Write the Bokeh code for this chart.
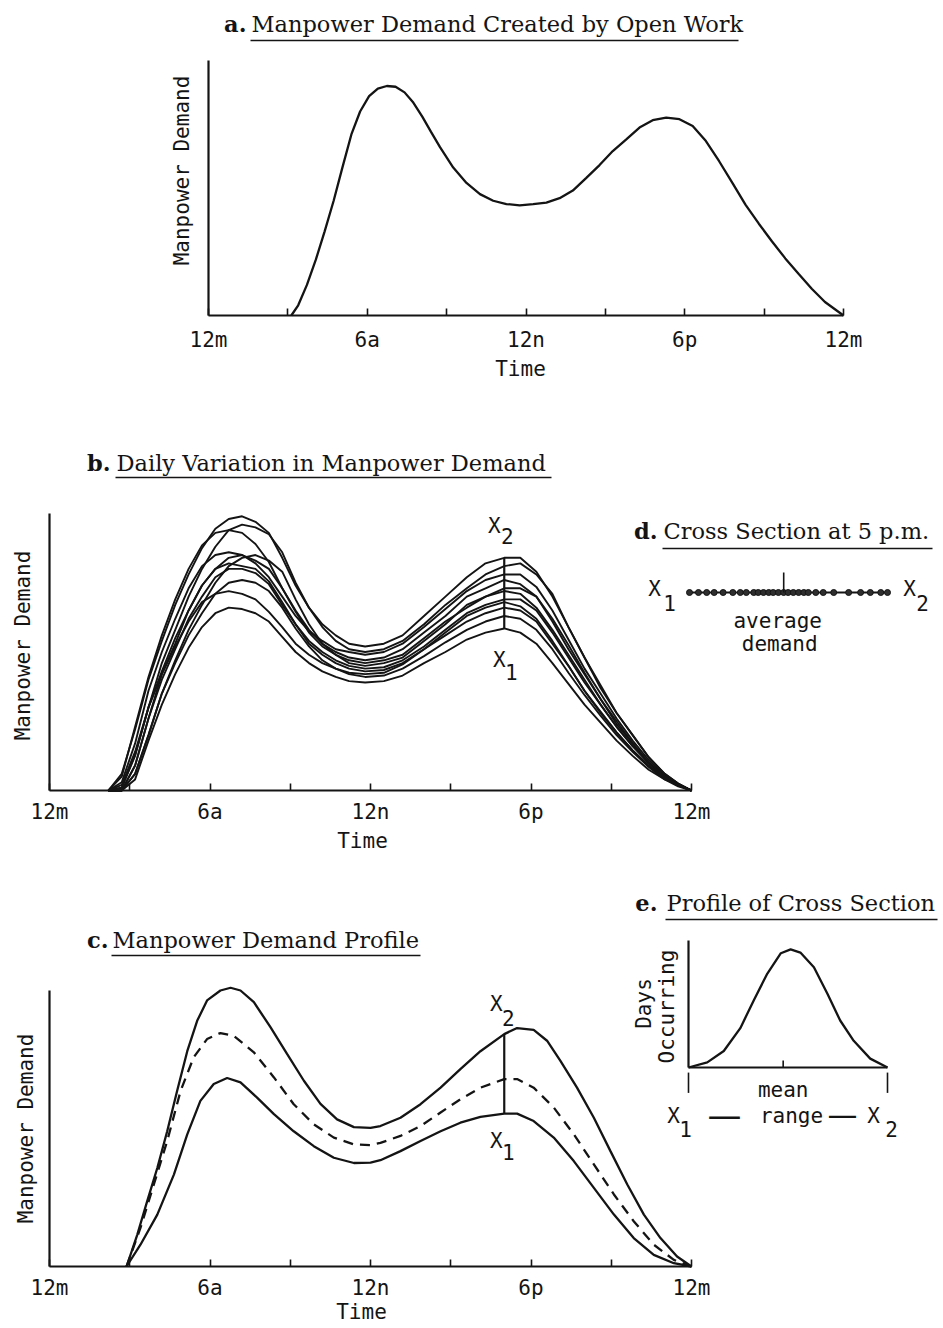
import math
from bokeh.plotting import figure
from bokeh.models import Range1d, FixedTicker, LinearAxis
from bokeh.core.properties import value
from bokeh.embed import file_html
from bokeh.resources import INLINE

# ---------------------------------------------------------------- data
TICK_HOURS = [0, 6, 12, 18, 24]
TICK_LABELS = ["12m", "6a", "12n", "6p", "12m"]
MINOR_HOURS = [3, 9, 15, 21]
CUT_HOUR = 17.0  # 5 p.m. cross section

# a. demand created by open work
a_hours = [3.13, 3.39, 3.72, 4.06, 4.39, 4.73, 5.06, 5.40, 5.73, 6.07,
           6.40, 6.74, 7.07, 7.41, 7.74, 8.08, 8.41, 8.75, 9.25, 9.75,
           10.26, 10.76, 11.26, 11.76, 12.27, 12.77, 13.27, 13.77, 14.28, 14.78,
           15.28, 15.78, 16.29, 16.79, 17.3, 17.8, 18.3, 18.8, 19.3, 19.8,
           20.3, 20.8, 21.3, 21.8, 22.3, 22.8, 23.3, 24.0]
a_demand = [0, .04, .12, .22, .33, .45, .58, .71, .80, .86,
            .89, .90, .897, .875, .835, .78, .72, .66, .58, .52,
            .476, .45, .437, .432, .437, .443, .46, .49, .54, .59,
            .645, .69, .737, .766, .776, .77, .743, .684, .605, .52,
            .434, .36, .29, .224, .164, .105, .053, 0]

# b. daily variation (eleven days)
b_hours = [2.2, 2.7, 3.2, 3.7, 4.2, 4.7, 5.2, 5.7, 6.2, 6.7,
           7.2, 7.7, 8.2, 8.7, 9.2, 9.7, 10.2, 10.7, 11.2, 11.8,
           12.5, 13.2, 14.0, 14.8, 15.6, 16.3, 17.0, 17.6, 18.2, 18.8,
           19.4, 20.0, 20.6, 21.2, 21.8, 22.4, 23.0, 23.5, 24.0]
b_day_01 = [0, .06, .22, .40, .54, .67, .78, .875, .945, .98, .99, .97, .93, .84, .74, .66, .60, .56, .53, .52,
            .53, .56, .63, .70, .77, .82, .84, .84, .79, .70, .59, .48, .37, .28, .20, .12, .06, .025, 0]
b_day_02 = [0, .01, .125, .30, .46, .58, .70, .80, .88, .94, .96, .95, .925, .86, .75, .66, .59, .54, .51, .50,
            .51, .54, .60, .67, .73, .78, .81, .82, .78, .71, .59, .48, .38, .28, .20, .12, .06, .025, 0]
b_day_03 = [0, .05, .23, .41, .56, .69, .80, .885, .93, .94, .93, .89, .825, .73, .65, .58, .53, .50, .48, .47,
            .48, .51, .57, .63, .70, .73, .76, .745, .70, .61, .51, .42, .33, .24, .17, .10, .05, .02, 0]
b_day_04 = [0, .03, .17, .36, .50, .62, .73, .81, .85, .86, .85, .82, .77, .70, .63, .575, .54, .51, .50, .49,
            .50, .53, .59, .655, .72, .76, .78, .78, .735, .65, .545, .44, .35, .26, .18, .11, .055, .025, 0]
b_day_05 = [0, 0, .09, .26, .42, .53, .65, .74, .80, .84, .85, .83, .80, .73, .645, .57, .52, .49, .47, .46,
            .47, .49, .55, .61, .66, .70, .72, .71, .66, .58, .49, .40, .31, .23, .16, .10, .05, .02, 0]
b_day_06 = [0, 0, .06, .20, .35, .47, .58, .67, .75, .81, .84, .85, .83, .79, .69, .60, .53, .49, .46, .45,
            .46, .48, .54, .60, .67, .70, .73, .73, .70, .62, .525, .425, .33, .25, .17, .10, .05, .02, 0]
b_day_07 = [0, .01, .13, .30, .43, .55, .65, .74, .80, .82, .81, .80, .755, .68, .60, .54, .50, .47, .45, .44,
            .445, .47, .52, .58, .64, .67, .69, .69, .65, .57, .48, .39, .31, .23, .16, .10, .05, .02, 0]
b_day_08 = [0, 0, .09, .26, .40, .51, .62, .70, .77, .80, .80, .785, .745, .67, .60, .53, .49, .46, .44, .43,
            .435, .46, .51, .56, .61, .64, .66, .65, .61, .53, .45, .36, .28, .21, .145, .09, .045, .02, 0]
b_day_09 = [0, .02, .14, .30, .42, .52, .61, .68, .71, .72, .71, .69, .645, .59, .53, .49, .46, .44, .425, .42,
            .425, .455, .51, .57, .63, .66, .68, .665, .62, .54, .45, .36, .285, .21, .145, .09, .045, .02, 0]
b_day_10 = [0, 0, .04, .18, .31, .42, .515, .59, .64, .66, .655, .64, .61, .555, .50, .46, .43, .41, .395, .39,
            .395, .415, .46, .50, .545, .57, .585, .57, .53, .46, .385, .31, .245, .18, .125, .075, .04, .015, 0]
b_day_11 = [0, 0, .06, .20, .35, .46, .56, .64, .71, .75, .76, .75, .72, .66, .585, .52, .47, .44, .42, .41,
            .415, .44, .485, .535, .58, .61, .63, .62, .58, .51, .425, .345, .27, .20, .14, .085, .04, .02, 0]
b_days = [b_day_01, b_day_02, b_day_03, b_day_04, b_day_05, b_day_06,
          b_day_07, b_day_08, b_day_09, b_day_10, b_day_11]

# c. demand profile: upper (X2), mean (dashed), lower (X1)
c_upper_hours = [2.88, 3.28, 3.65, 4.03, 4.40, 4.77, 5.15, 5.52, 5.89, 6.39,
                 6.77, 7.14, 7.64, 8.26, 8.88, 9.51, 10.13, 10.75, 11.38, 12.0,
                 12.37, 13.12, 13.87, 14.62, 15.36, 16.11, 17.0, 17.48, 18.1, 18.6,
                 19.1, 19.72, 20.35, 20.97, 21.6, 22.22, 22.84, 23.46, 24.0]
c_upper = [0, .115, .236, .357, .49, .636, .78, .89, .964, 1.0,
           1.01, 1.0, .958, .867, .77, .673, .589, .533, .505, .502,
           .509, .539, .588, .648, .715, .78, .842, .864, .857, .818,
           .745, .648, .539, .418, .297, .188, .103, .036, 0]
c_mean_hours = [2.88, 3.4, 3.9, 4.4, 4.9, 5.39, 5.89, 6.39, 6.89, 7.64,
                8.39, 9.13, 9.88, 10.63, 11.38, 12.0, 12.37, 13.12, 13.87, 14.62,
                15.36, 16.11, 17.0, 17.48, 18.1, 18.85, 19.6, 20.35, 21.1, 21.84,
                22.59, 23.34, 24.0]
c_mean = [0, .14, .297, .455, .636, .758, .824, .846, .836, .776,
          .685, .588, .515, .467, .442, .44, .448, .473, .509, .558,
          .606, .648, .679, .679, .648, .576, .479, .37, .261, .164,
          .079, .024, 0]
c_lower_hours = [2.88, 3.4, 4.03, 4.65, 5.15, 5.64, 6.14, 6.64, 7.14, 7.76,
                 8.39, 9.13, 9.88, 10.63, 11.38, 12.0, 12.37, 13.12, 13.87, 14.62,
                 15.36, 16.11, 17.0, 17.48, 18.1, 18.85, 19.6, 20.35, 21.1, 21.84,
                 22.59, 23.34, 24.0]
c_lower = [0, .079, .188, .333, .479, .60, .661, .683, .667, .612,
           .552, .49, .436, .394, .375, .376, .385, .418, .455, .49,
           .521, .542, .554, .554, .527, .467, .382, .285, .188, .103,
           .042, .012, 0]

# d. cross section at 5 p.m. (demand of individual days)
d_demand_5pm = [.585, .597, .608, .618, .630, .643, .653, .661, .671, .677,
                .684, .691, .697, .704, .711, .717, .724, .731, .738, .744,
                .754, .764, .778, .798, .814, .827, .841, .85]

# e. profile of the cross section
e_demand = [.585, .610, .632, .654, .672, .690, .708, .721, .734, .752,
            .770, .787, .805, .827, .85]
e_days = [0, .04, .13, .31, .53, .74, .90, .93, .905, .79,
          .58, .37, .21, .07, 0]

# ---------------------------------------------------------------- page layout (px)
INK = "#141414"
MONO = "DejaVu Sans Mono"
SERIF = "DejaVu Serif"
PAGE_W, PAGE_H = 943, 1328
TITLE_SIZE = 22.5
LABEL_SIZE = 21

x1d, x2d = min(d_demand_5pm), max(d_demand_5pm)
avg_d = sum(d_demand_5pm) / len(d_demand_5pm)

# value -> page pixel anchors for every panel: (v0, page0, v1, page1)
MAP = {
    "a_x": (0, 208, 24, 843), "a_y": (0, 315, 1, 60),
    "b_x": (0, 49, 24, 691), "b_y": (0, 790, 1, 513),
    "c_x": (0, 49, 24, 691), "c_y": (0, 1266, 1, 990),
    "d_x": (x1d, 689, x2d, 887), "d_y": (0, 592, 1, 591),
    "e_x": (x1d, 688, x2d, 887), "e_y": (0, 1067, 1, 940),
}


def to_px(name, v):
    v0, p0, v1, p1 = MAP[name]
    return p0 + (v - v0) * (p1 - p0) / (v1 - v0)


def rng(name):
    v0, p0, v1, p1 = MAP[name]
    k = (p1 - p0) / (v1 - v0)
    lo, hi = (0, PAGE_W) if name.endswith("_x") else (PAGE_H, 0)
    return Range1d(v0 + (lo - p0) / k, v0 + (hi - p0) / k)


p = figure(width=PAGE_W, height=PAGE_H, x_range=Range1d(0, PAGE_W), y_range=Range1d(PAGE_H, 0),
           x_axis_location=None, y_axis_location=None, min_border=0,
           output_backend="svg", toolbar_location=None)
p.outline_line_color = None
p.background_fill_color = "white"
p.border_fill_color = "white"
for g in p.grid:
    g.visible = False
for name in MAP:
    if name.endswith("_x"):
        p.extra_x_ranges[name] = rng(name)
    else:
        p.extra_y_ranges[name] = rng(name)


def time_axis(panel, standoff):
    ax = LinearAxis(x_range_name=panel + "_x", y_range_name=panel + "_y", fixed_location=0,
                    bounds=(0, 24), ticker=FixedTicker(ticks=TICK_HOURS, minor_ticks=MINOR_HOURS),
                    major_label_overrides=dict(zip(TICK_HOURS, TICK_LABELS)),
                    axis_line_width=2.2, axis_line_color=INK,
                    major_tick_in=7, major_tick_out=0, minor_tick_in=7, minor_tick_out=0,
                    major_tick_line_color=INK, minor_tick_line_color=INK,
                    major_tick_line_width=1.6, minor_tick_line_width=1.6,
                    major_label_text_font=MONO, major_label_text_font_size=f"{LABEL_SIZE}px",
                    major_label_text_color=INK, major_label_standoff=standoff)
    p.add_layout(ax, "below")


def plain_axis(panel, side, loc, bounds):
    ax = LinearAxis(x_range_name=panel + "_x", y_range_name=panel + "_y", fixed_location=loc,
                    bounds=bounds, ticker=FixedTicker(ticks=[]),
                    axis_line_width=2.2, axis_line_color=INK,
                    major_tick_line_color=None, minor_tick_line_color=None,
                    major_label_text_font_size="0px")
    p.add_layout(ax, side)


def txt(x, y, t, size=LABEL_SIZE, font=MONO, align="center", baseline="middle", angle=0.0,
        style="normal"):
    p.text(x=[x], y=[y], text=[t], text_font=value(font), text_font_size=value(f"{size}px"),
           text_align=value(align), text_baseline=value(baseline), angle=angle,
           text_font_style=value(style), text_color=INK)


def title(letter, text, letter_right, text_left, mid, rule_right, rule_y):
    txt(letter_right, mid, letter, size=TITLE_SIZE, font=SERIF, align="right", style="bold")
    txt(text_left, mid, text, size=TITLE_SIZE, font=SERIF, align="left")
    p.segment(x0=[text_left - 1], y0=[rule_y], x1=[rule_right], y1=[rule_y], line_width=1.7,
              line_color=INK)


def sub_label(x, y, letter, digit, dx=12, dy=12):
    txt(x, y, letter)
    txt(x + dx, y + dy, digit)


# ---------------------------------------------------------------- panel a
time_axis("a", 12)
plain_axis("a", "left", 0, (0, 1))
p.line(a_hours, a_demand, x_range_name="a_x", y_range_name="a_y", line_width=2.3, line_color=INK)
title("a.", "Manpower Demand Created by Open Work", 246, 251, 23, 738, 40)
txt(181, 170, "Manpower Demand", angle=math.pi / 2)
txt(520, 368, "Time")

# ---------------------------------------------------------------- panel b
time_axis("b", 9)
plain_axis("b", "left", 0, (0, 1))
for day in b_days:
    p.line(b_hours, day, x_range_name="b_x", y_range_name="b_y", line_width=1.9, line_color=INK)
i17 = b_hours.index(CUT_HOUR)
at5 = [day[i17] for day in b_days]
p.segment(x0=[CUT_HOUR], y0=[min(at5)], x1=[CUT_HOUR], y1=[max(at5)],
          x_range_name="b_x", y_range_name="b_y", line_width=2.2, line_color=INK)
lx = to_px("b_x", CUT_HOUR)
sub_label(lx - 10, to_px("b_y", max(at5)) - 32, "X", "2", 13, 10)
sub_label(lx - 5, to_px("b_y", min(at5)) + 32, "X", "1", 12, 12)
title("b.", "Daily Variation in Manpower Demand", 110, 116, 462, 551, 477)
txt(22, 645, "Manpower Demand", angle=math.pi / 2)
txt(362, 840, "Time")

# ---------------------------------------------------------------- panel d
p.line([x1d, x2d], [0, 0], x_range_name="d_x", y_range_name="d_y", line_width=2.2, line_color=INK)
p.scatter(d_demand_5pm, [0] * len(d_demand_5pm), x_range_name="d_x", y_range_name="d_y",
          marker="circle", size=6, fill_color="#2e2e2e", line_color=INK, line_width=1)
p.segment(x0=[avg_d], y0=[0], x1=[avg_d], y1=[20], x_range_name="d_x", y_range_name="d_y",
          line_width=1.6, line_color=INK)
dy0 = to_px("d_y", 0)
sub_label(to_px("d_x", x1d) - 35, dy0 - 4, "X", "1", 15, 14)
sub_label(to_px("d_x", x2d) + 22, dy0 - 4, "X", "2", 13, 14)
txt(to_px("d_x", avg_d) - 6, dy0 + 28, "average")
txt(to_px("d_x", avg_d) - 4, dy0 + 51, "demand")
title("d.", "Cross Section at 5 p.m.", 657, 663, 530, 932, 548)

# ---------------------------------------------------------------- panel c
time_axis("c", 9)
plain_axis("c", "left", 0, (0, 1))
p.line(c_upper_hours, c_upper, x_range_name="c_x", y_range_name="c_y", line_width=2.3, line_color=INK)
p.line(c_lower_hours, c_lower, x_range_name="c_x", y_range_name="c_y", line_width=2.3, line_color=INK)
p.line(c_mean_hours, c_mean, x_range_name="c_x", y_range_name="c_y", line_width=2.3, line_color=INK,
       line_dash="10 7")
top17 = c_upper[c_upper_hours.index(CUT_HOUR)]
low17 = c_lower[c_lower_hours.index(CUT_HOUR)]
p.segment(x0=[CUT_HOUR], y0=[low17], x1=[CUT_HOUR], y1=[top17],
          x_range_name="c_x", y_range_name="c_y", line_width=2.2, line_color=INK)
lx = to_px("c_x", CUT_HOUR)
sub_label(lx - 8, to_px("c_y", top17) - 30, "X", "2", 12, 14)
sub_label(lx - 8, to_px("c_y", low17) + 27, "X", "1", 12, 11)
title("c.", "Manpower Demand Profile", 108, 112, 939, 420, 955)
txt(25, 1128, "Manpower Demand", angle=math.pi / 2)
txt(361, 1311, "Time")

# ---------------------------------------------------------------- panel e
plain_axis("e", "below", 0, (x1d, x2d))
plain_axis("e", "left", x1d, (0, 1))
p.line(e_demand, e_days, x_range_name="e_x", y_range_name="e_y", line_width=2.3, line_color=INK)
p.segment(x0=[avg_d], y0=[0], x1=[avg_d], y1=[0.055], x_range_name="e_x", y_range_name="e_y",
          line_width=1.6, line_color=INK)
p.segment(x0=[x1d, x2d], y0=[-0.04, -0.04], x1=[x1d, x2d], y1=[-0.2, -0.2],
          x_range_name="e_x", y_range_name="e_y", line_width=1.6, line_color=INK)
ex0, ex1, ey0 = to_px("e_x", x1d), to_px("e_x", x2d), to_px("e_y", 0)
txt(to_px("e_x", avg_d), ey0 + 22, "mean")
sub_label(ex0 - 15, ey0 + 48, "X", "1", 12, 13)
txt(724, ey0 + 47, "\u2014", size=34, font="DejaVu Sans")
txt(791, ey0 + 48, "range")
txt(842, ey0 + 47, "\u2014", size=30, font="DejaVu Sans")
sub_label(ex1 - 14, ey0 + 48, "X", "2", 18, 13)
txt(ex0 - 45, 1003, "Days", angle=math.pi / 2)
txt(ex0 - 22, 1006, "Occurring", angle=math.pi / 2)
title("e.", "Profile of Cross Section", 657, 666, 902, 937, 919)

open("out.html", "w").write(file_html(p, INLINE))
